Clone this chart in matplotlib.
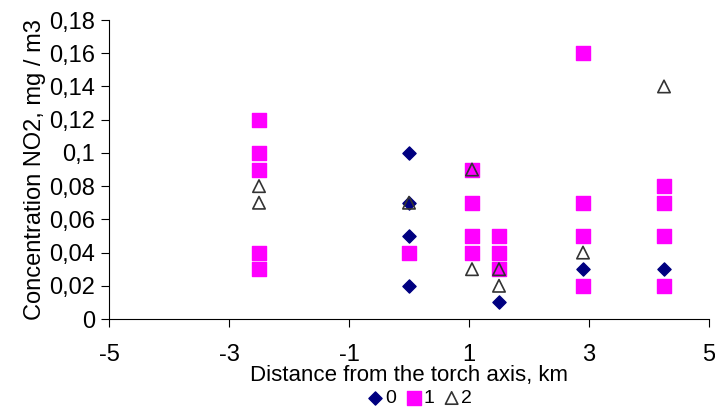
import numpy as np
import matplotlib.pyplot as plt
from matplotlib.ticker import FuncFormatter

plt.rcParams['font.family'] = ['Liberation Sans', 'DejaVu Sans']
plt.rcParams['axes.unicode_minus'] = False

# series 0 (diamonds)
x0 = [0.0, 0.0, 0.0, 0.0, 1.5, 2.9, 4.25]
y0 = [0.10, 0.07, 0.05, 0.02, 0.01, 0.03, 0.03]
# series 1 (squares)
x1 = [-2.5, -2.5, -2.5, -2.5, -2.5, 0.0, 1.05, 1.05, 1.05, 1.05,
      1.5, 1.5, 1.5, 2.9, 2.9, 2.9, 2.9, 4.25, 4.25, 4.25, 4.25]
y1 = [0.12, 0.10, 0.09, 0.04, 0.03, 0.04, 0.09, 0.07, 0.05, 0.04,
      0.05, 0.04, 0.03, 0.16, 0.07, 0.05, 0.02, 0.08, 0.07, 0.05, 0.02]
# series 2 (triangles)
x2 = [-2.5, -2.5, 0.0, 1.05, 1.05, 1.5, 1.5, 2.9, 4.25]
y2 = [0.08, 0.07, 0.07, 0.09, 0.03, 0.03, 0.02, 0.04, 0.14]

fig = plt.figure(figsize=(7.15, 4.07), dpi=100)
ax = fig.add_axes([109 / 715, 1 - 319 / 407, 600 / 715, 299 / 407])

ax.scatter(x0, y0, marker='D', s=45, color='#000080', label='0', zorder=3)
ax.scatter(x1, y1, marker='s', s=95, color='#ff00ff', label='1', zorder=3)
ax.scatter(x2, y2, marker='^', s=80, facecolor='none', edgecolor='#333333',
           linewidth=1.2, label='2', zorder=4)

ax.set_xlim(-5, 5)
ax.set_ylim(0, 0.18)
ax.set_xticks([-5, -3, -1, 1, 3, 5])
ax.set_yticks(np.arange(0, 0.181, 0.02))
ax.yaxis.set_major_formatter(FuncFormatter(
    lambda v, p: '0' if abs(v) < 1e-9 else ('%g' % round(v, 2)).replace('.', ',')))
for s in ['top', 'right']:
    ax.spines[s].set_visible(False)
ax.tick_params(labelsize=17, direction='out', length=6, pad=4)
ax.tick_params(axis='x', pad=12)
ax.set_xlabel('Distance from the torch axis, km', fontsize=16, labelpad=-1)
ax.set_ylabel('Concentration NO2, mg / m3', fontsize=17, labelpad=2)

fig.legend(loc='lower center', bbox_to_anchor=(418 / 715, -0.005), ncol=3,
           frameon=False, fontsize=14, handletextpad=-0.1, columnspacing=0.3,
           handlelength=1.2, borderaxespad=0, borderpad=0.1)

fig.savefig('out.png', dpi=100)
